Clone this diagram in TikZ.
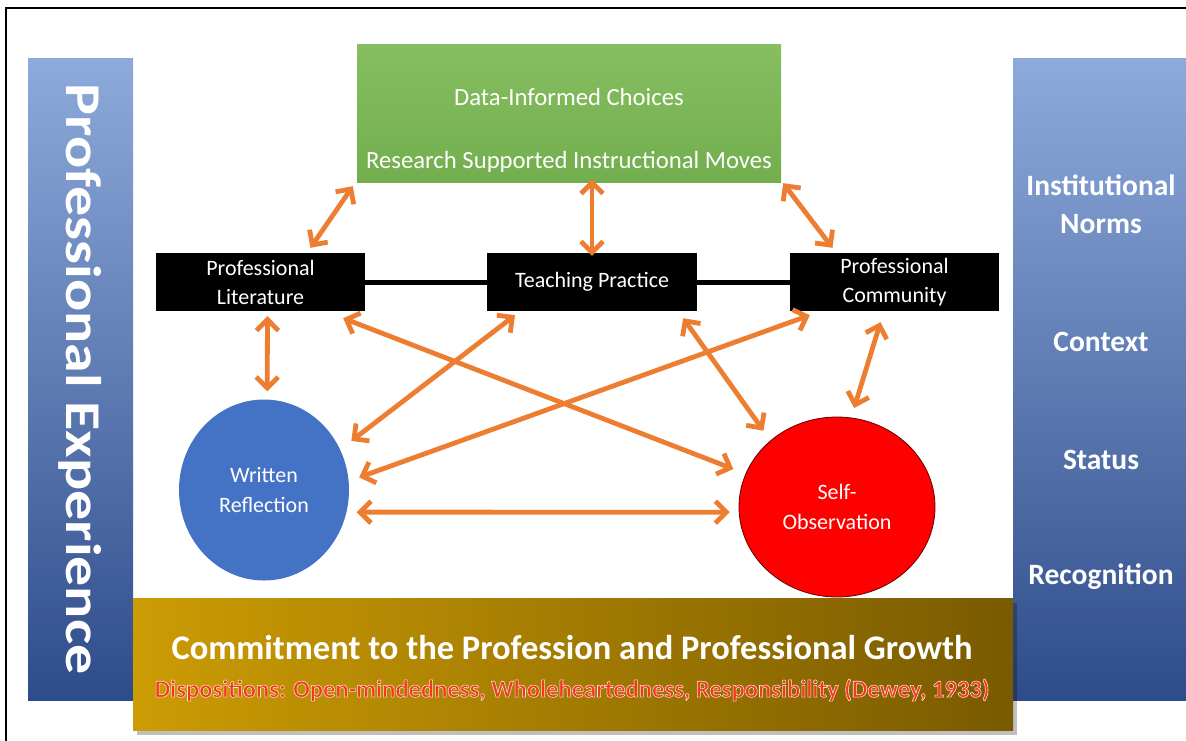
\documentclass[tikz,border=0pt]{standalone}
\usepackage{fontspec}
\setmainfont{Carlito}
\usetikzlibrary{arrows.meta,shapes.geometric,calc}
\definecolor{arrorange}{HTML}{ED7D31}
\definecolor{paneltop}{HTML}{8EAADB}
\definecolor{panelmid}{HTML}{4E76C4}
\definecolor{panelbot}{HTML}{2E4C8A}
\definecolor{greentop}{HTML}{86BE60}
\definecolor{greenbot}{HTML}{72AE4E}
\definecolor{goldleft}{HTML}{CC9C04}
\definecolor{goldright}{HTML}{795A00}
\definecolor{wrblue}{HTML}{4472C4}
\definecolor{sored}{HTML}{FF0000}
\definecolor{dispred}{HTML}{F23A18}
\newcommand{\glowtext}[1]{{\color{dispred}\special{pdf:literal 2 Tr 1 0.9 0.85 RG 0.55 w}#1\special{pdf:literal 0 Tr}}}
\tikzset{
  arr/.style={draw=arrorange, line width=4.8pt,
    {Straight Barb[length=11pt,width=22pt,line width=4.8pt]}-{Straight Barb[length=11pt,width=22pt,line width=4.8pt]}},
  blackbox/.style={fill=black, text=white, minimum width=209pt, minimum height=58pt,
    inner sep=0pt, align=center, font=\fontsize{22}{29}\selectfont},
  circ/.style={ellipse, text=white, inner sep=0pt, align=center, font=\fontsize{22}{30}\selectfont},
  paneltxt/.style={text=white, font=\bfseries\fontsize{29.5}{38}\selectfont, align=center},
  greentxt/.style={text=white, font=\fontsize{24.7}{28}\selectfont},
  link/.style={line width=5pt, draw=black},
  bluepanel/.style={top color=paneltop, middle color=panelmid, bottom color=panelbot}
}
\begin{document}
\begin{tikzpicture}[x=1pt,y=-1pt]
\useasboundingbox (0,0) rectangle (1186,740);
% frame
\draw[line width=2.2pt] (1195,8) -- (6,8) -- (6,750);
% left panel
\shade[bluepanel] (28,58) rectangle (133,700);
\node[text=white, rotate=-90, font=\bfseries\fontsize{50}{54}\selectfont] (pe) at (80,379) {\scalebox{1.2}[1]{Professional Experience}};
% right panel
\shade[bluepanel] (1013,58) rectangle (1195,700);
\node[paneltxt] (norms) at (1101,204) {Institutional\\Norms};
\node[paneltxt] (ctx) at (1101,342) {Context};
\node[paneltxt] (stat) at (1101,460) {Status};
\node[paneltxt] (recog) at (1101,577) {Recognition};
% green box
\node[top color=greentop, bottom color=greenbot, minimum width=424pt, minimum height=138pt, inner sep=0pt] (green) at (569,113) {};
\node[greentxt] (g1) at (569,97) {Data-Informed Choices};
\node[greentxt] (g2) at (569,162) {Research Supported Instructional Moves};
% black boxes
\node[blackbox] (lit) at (260.5,282) {Professional\\Literature};
\node[blackbox, minimum width=210pt] (tp) at (592,282) {Teaching Practice};
\node[blackbox] (pc) at (894.5,282) {Professional\\Community};
\draw[link] (lit.east) -- (tp.west);
\draw[link] (tp.east) -- (pc.west);
% circles
\node[circ, fill=wrblue, minimum width=170pt, minimum height=181pt] (wr) at (264,490) {Written\\Reflection};
\node[circ, fill=sored, draw=black!60!red, line width=0.8pt, minimum width=196pt, minimum height=180pt] (so) at (837,507) {Self-\\Observation};
% gold box
\fill[black, opacity=0.25] (137,603) rectangle (1017,735);
\shade[left color=goldleft, right color=goldright] (133,598) rectangle (1013,730);
\node[text=white, font=\bfseries\fontsize{34.5}{38}\selectfont] (commit) at (572,648) {Commitment to the Profession and Professional Growth};
\node[font=\bfseries\fontsize{24.6}{28}\selectfont] (disp) at (572,690) {\glowtext{Dispositions: Open-mindedness, Wholeheartedness, Responsibility (Dewey, 1933)}};
% arrows
\draw[arr] ([shift={(-4,4)}]green.south west) -- ([shift={(50,-5)}]lit.north);
\draw[arr] ([yshift=3]green.south -| tp.north) -- ([yshift=-3]tp.north);
\draw[arr] ([shift={(2,1)}]green.south east) -- ([shift={(-62,-5)}]pc.north);
\draw[arr, shorten >=8pt] ([shift={(7,5)}]lit.south) -- (wr.88);
\draw[arr, shorten >=13pt] ([shift={(-22,7)}]lit.south east) -- (so.160.6);
\draw[arr, shorten >=14pt] ([shift={(-77,4)}]tp.south) -- (wr.28.6);
\draw[arr, shorten >=12pt] ([shift={(-14,7)}]tp.south east) -- (so.135);
\draw[arr, shorten >=11pt] ([shift={(20,4)}]pc.south west) -- (wr.6);
\draw[arr, shorten >=10pt] ([shift={(-14,11)}]pc.south) -- (so.81.4);
\draw[arr, shorten <=10pt, shorten >=9pt] (wr.-15) -- (so.183.2);
\end{tikzpicture}
\end{document}
